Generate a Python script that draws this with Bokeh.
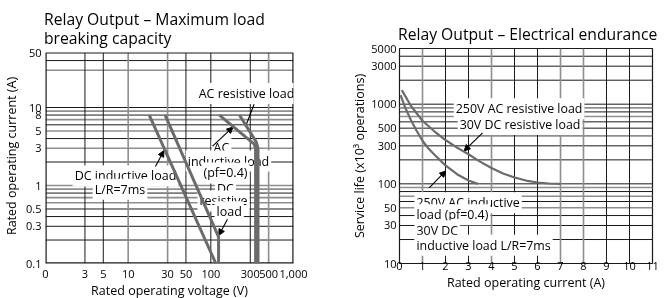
from bokeh.plotting import figure
from bokeh.layouts import row
from bokeh.models import FixedTicker, Label, Arrow, NormalHead, Title
from bokeh.embed import file_html
from bokeh.resources import INLINE

# ---------------- Left chart: maximum load breaking capacity ----------------
cap_x_ticks = [1, 3, 5, 10, 30, 50, 100, 300, 500, 1000]
cap_x_labels = ["0", "3", "5", "10", "30", "50", "100", "300", "500", "1,000"]
cap_y_ticks = [0.1, 0.3, 0.5, 1, 3, 5, 8, 10, 50]
cap_y_labels = ["0.1", "0.3", "0.5", "1", "3", "5", "8", "10", "50"]

dc_ind_v = [18, 115]
dc_ind_i = [8, 0.1]
dc_res_v = [28, 124, 124]
dc_res_i = [8, 0.22, 0.1]
ac_ind_v = [127, 335, 348, 348]
ac_ind_i = [8, 3.4, 3.0, 0.1]
ac_res_v = [222, 355, 372, 372]
ac_res_i = [8, 3.6, 3.0, 0.1]

cap_hgrid_dark = [40, 10, 8, 6, 4, 2, 0.8, 0.5, 0.4, 0.3, 0.2]
cap_hgrid_gray = [30, 9, 7, 5, 3, 1, 0.9, 0.7, 0.6]
cap_vgrid_dark = [3, 5, 50, 100, 300]
cap_vgrid_gray = [10, 30, 500]

# ---------------- Right chart: electrical endurance ----------------
end_x_ticks = [0, 1, 2, 3, 4, 5, 6, 7, 8, 9, 10, 11]
end_x_labels = ["0", "1", "2", "3", "4", "5", "6", "7", "8", "9", "10", "11"]
end_y_ticks = [10, 30, 50, 100, 300, 500, 1000, 3000, 5000]
end_y_labels = ["10", "30", "50", "100", "300", "500", "1000", "3000", "5000"]

res_current = [0.1, 0.5, 1.0, 1.5, 2.0, 2.5, 3.0, 3.5, 4.0, 4.5, 5.0, 5.5, 6.0, 6.5, 7.0]
res_life = [1500, 950, 620, 460, 355, 285, 235, 190, 158, 135, 120, 110, 104, 101, 100]
ind_current = [0.05, 0.25, 0.5, 0.75, 1.0, 1.25, 1.5, 1.75, 2.0, 2.5, 3.0, 3.4]
ind_life = [1300, 900, 630, 460, 347, 280, 235, 200, 170, 132, 110, 100]

end_hgrid_dark = [4000, 3000, 2000, 1000, 800, 600, 500, 300, 200, 100, 80, 60, 40, 30, 20]
end_hgrid_gray = [900, 700, 400, 90, 70, 50]
end_vgrid_dark = [2, 3, 5, 6, 9, 10]
end_vgrid_gray = [1, 4, 7, 8]

FONT = "Open Sans"
DARK = "#1a1a1a"
GRAY = "#8e8e8e"
CURVE = "#6b6b6b"


def style(p, xt, xl, yt, yl):
    p.xgrid.visible = False
    p.ygrid.visible = False
    for ax in (p.xaxis[0], p.yaxis[0]):
        ax.axis_line_color = None
        ax.major_tick_line_color = None
        ax.minor_tick_line_color = None
        ax.major_tick_out = 0
        ax.major_tick_in = 0
        ax.minor_tick_out = 0
        ax.minor_tick_in = 0
        ax.major_label_text_font = FONT
        ax.major_label_text_font_size = "11px"
        ax.major_label_text_color = "black"
        ax.axis_label_text_font = FONT
        ax.axis_label_text_font_size = "12.5px"
        ax.axis_label_text_font_style = "normal"
        ax.axis_label_text_color = "black"
    p.xaxis.ticker = FixedTicker(ticks=xt)
    p.xaxis.major_label_overrides = dict(zip(xt, xl))
    p.yaxis.ticker = FixedTicker(ticks=yt)
    p.yaxis.major_label_overrides = dict(zip(yt, yl))


def grid_lines(p, xlo, xhi, ylo, yhi, hdark, hgray, vdark, vgray):
    for vals, col, w in ((hgray, GRAY, 1.6), (hdark, DARK, 1.0)):
        p.segment(x0=[xlo] * len(vals), x1=[xhi] * len(vals), y0=vals, y1=vals,
                  line_color=col, line_width=w)
    for vals, col, w in ((vgray, GRAY, 1.6), (vdark, DARK, 1.0)):
        p.segment(x0=vals, x1=vals, y0=[ylo] * len(vals), y1=[yhi] * len(vals),
                  line_color=col, line_width=w)


def text(p, x, y, s, align="center", size="12.5px"):
    p.add_layout(Label(x=x, y=y, text=s, text_font=FONT, text_font_size=size,
                       text_align=align, text_baseline="alphabetic", text_color="black",
                       background_fill_color="white", padding=2))


def title(p, s, standoff):
    p.add_layout(Title(text=s, text_font=FONT, text_font_size="15.7px",
                       text_font_style="normal", text_color="black", align="left",
                       standoff=standoff, offset=-1.5), "above")


def arrow(p, x0, y0, x1, y1, head=True):
    p.add_layout(Arrow(x_start=x0, y_start=y0, x_end=x1, y_end=y1, line_width=1.1,
                       line_color="black",
                       end=NormalHead(size=6, fill_color="black", line_color="black",
                                      line_width=1) if head else None))


# ---------- left figure ----------
# both frames share top/bottom in a row; the left one keeps 4.5 px of headroom above 50 A
p1 = figure(frame_width=248, frame_height=215, x_axis_type="log", y_axis_type="log",
            x_range=(1, 1000), y_range=(0.1, 57.1), output_backend="svg",
            toolbar_location=None, min_border_left=40, min_border_right=39,
            min_border_top=40, min_border_bottom=35, title=None)
style(p1, cap_x_ticks, cap_x_labels, cap_y_ticks, cap_y_labels)
p1.outline_line_color = None
p1.xaxis.axis_label = "Rated operating voltage (V)"
p1.yaxis.axis_label = "Rated operating current (A)"
p1.xaxis.major_label_standoff = 6
p1.xaxis.axis_label_standoff = 1
p1.yaxis.major_label_standoff = 4
p1.yaxis.axis_label_standoff = 3
x_lo, x_hi = cap_x_ticks[0], cap_x_ticks[-1]
y_lo, y_hi = cap_y_ticks[0], cap_y_ticks[-1]
grid_lines(p1, x_lo, x_hi, y_lo, y_hi, cap_hgrid_dark, cap_hgrid_gray,
           cap_vgrid_dark, cap_vgrid_gray)
# frame border of the chart area
p1.segment(x0=[x_lo, x_hi, x_lo, x_lo], x1=[x_lo, x_hi, x_hi, x_hi],
           y0=[y_lo, y_lo, y_lo, y_hi], y1=[y_hi, y_hi, y_lo, y_hi],
           line_color=DARK, line_width=[2.4, 2.4, 2.4, 1.2])

title(p1, "breaking capacity", -1)
title(p1, "Relay Output – Maximum load", -9)

text(p1, 270, 15.07, "AC resistive load")
text(p1, 134.6, 3.03, "AC")
text(p1, 163.6, 2.06, "inductive load")
text(p1, 150.4, 1.45, "(pf=0.4)")
text(p1, 150.4, 0.91, "DC")
text(p1, 142.3, 0.633, "resistive")
text(p1, 166.7, 0.461, "load")
text(p1, 9.28, 1.325, "DC inductive load")
text(p1, 7.96, 0.894, "L/R=7ms")
arrow(p1, 334, 11.0, 268, 6.0, head=False)
arrow(p1, 105, 3.2, 185, 5.6)
arrow(p1, 159, 0.37, 125, 0.23)
arrow(p1, 21.4, 1.75, 27, 2.8)

for vx, iy in ((dc_ind_v, dc_ind_i), (dc_res_v, dc_res_i),
               (ac_ind_v, ac_ind_i), (ac_res_v, ac_res_i)):
    r = p1.line(vx, iy, line_color=CURVE, line_width=3)
    r.level = "overlay"

# ---------- right figure ----------
p2 = figure(frame_width=253, frame_height=215, y_axis_type="log",
            x_range=(0, 11), y_range=(10, 5000), output_backend="svg",
            toolbar_location=None, min_border_left=67, min_border_right=11,
            min_border_top=40, min_border_bottom=35, title=None)
style(p2, end_x_ticks, end_x_labels, end_y_ticks, end_y_labels)
p2.outline_line_color = DARK
p2.outline_line_width = 1.2
p2.xaxis.axis_label = "Rated operating current (A)"
p2.yaxis.axis_label = "Service life (x10³ operations)"
p2.xaxis.major_label_standoff = -2
p2.xaxis.axis_label_standoff = 1
p2.yaxis.major_label_standoff = 3
p2.yaxis.axis_label_standoff = 0
grid_lines(p2, end_x_ticks[0], end_x_ticks[-1], end_y_ticks[0], end_y_ticks[-1],
           end_hgrid_dark, end_hgrid_gray, end_vgrid_dark, end_vgrid_gray)

title(p2, "Relay Output – Electrical endurance", 7)

text(p2, 5.20, 874, "250V AC resistive load", size="12.4px")
text(p2, 5.24, 556, "30V DC resistive load", size="12.4px")
text(p2, 0.652, 58, "250V AC inductive", align="left", size="12.4px")
text(p2, 0.652, 40.9, "load (pf=0.4)", align="left", size="12.4px")
text(p2, 0.652, 25.7, "30V DC", align="left", size="12.4px")
text(p2, 0.652, 17, "inductive load L/R=7ms", align="left", size="12.4px")
arrow(p2, 3.61, 437, 2.81, 259)
arrow(p2, 1.29, 89, 2.01, 145)

for cx, ly in ((res_current, res_life), (ind_current, ind_life)):
    r = p2.line(cx, ly, line_color=CURVE, line_width=2.2)
    r.level = "overlay"

# the axis titles run into the page's bottom margin, as in the reference; pinning the
# layout to the viewport keeps the page from scrolling
layout = row(p1, p2, styles={"position": "fixed", "top": "8px", "left": "0px"})
open("out.html", "w").write(file_html(layout, INLINE))
